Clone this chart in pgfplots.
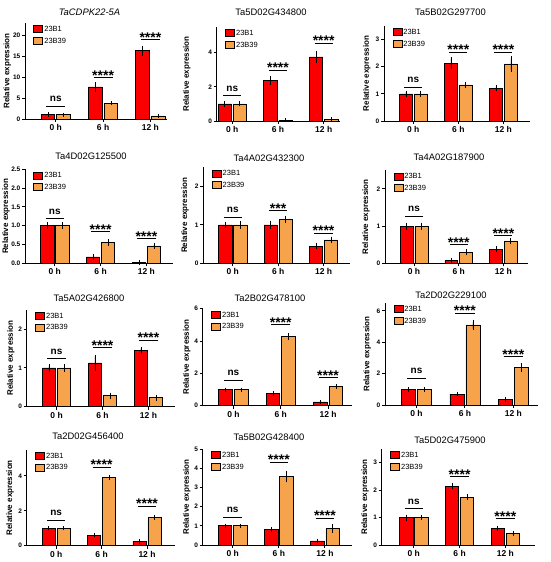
\documentclass[border=0pt]{standalone}
\usepackage{pgfplots}
\pgfplotsset{compat=1.18}
\usepackage{fontspec}
\setmainfont{Liberation Sans}
\definecolor{barred}{RGB}{250,0,0}
\definecolor{barorg}{RGB}{247,163,76}
\pgfplotsset{
  gp/.style={
    scale only axis, ybar, clip=false,
    axis x line*=bottom, axis y line*=left,
    axis line style={line width=0.9pt,-},
    xmin=-0.65, xmax=2.55, ymin=0,
    xtick={0,1,2}, xticklabels={0 h,6 h,12 h},
    minor tick num=0,
    tick align=outside, major tick length=3pt,
    every tick/.style={line width=0.9pt,black},
    x tick label style={font=\bfseries\fontsize{8.5}{9}\selectfont, inner sep=2pt},
    y tick label style={font=\bfseries\fontsize{6.5}{7}\selectfont, inner sep=1.5pt},
    /pgf/number format/assume math mode=true,
    ylabel={Relative expression},
    ylabel style={font=\bfseries\fontsize{8}{9}\selectfont, anchor=center},
    bar width=0.29,
    legend style={draw=none, fill=none, inner sep=0pt, outer sep=0pt,
      at={(axis description cs:0,1)}, anchor=north west, xshift=8.5pt, yshift=-2pt,
      font=\fontsize{7.5}{8}\selectfont,
      nodes={inner sep=1.2pt}, row sep=2.5pt},
    legend cell align=left,
    legend image code/.code={\draw[##1,line width=0.7pt] (0pt,-3pt) rectangle (9pt,4pt);},
  },
  rb/.style={fill=barred, draw=black, line width=0.7pt, bar shift=-0.165,
    error bars/y dir=both, error bars/y explicit,
    error bars/error bar style={line width=0.7pt,black},
    error bars/error mark options={mark size=1.7pt,line width=0.7pt,black}},
  ob/.style={fill=barorg, draw=black, line width=0.7pt, bar shift=0.165,
    error bars/y dir=both, error bars/y explicit,
    error bars/error bar style={line width=0.7pt,black},
    error bars/error mark options={mark size=1.7pt,line width=0.7pt,black}},
}
\tikzset{sigl/.style={line width=1pt,black}}
\newcommand\nstxt{\bfseries\fontsize{10}{11}\selectfont ns}
\newcommand\sttxt[1]{\bfseries\fontsize{14}{15}\selectfont #1}
\newcommand\signs[1]{\draw[sigl] (axis cs:-0.2,#1) -- (axis cs:0.2,#1) node[midway,anchor=base,yshift=4.6pt,inner sep=0pt]{\nstxt};}
\newcommand\sigB[2]{\draw[sigl] (axis cs:0.8,#1) -- (axis cs:1.2,#1) node[midway,anchor=base,yshift=-2.4pt,inner sep=0pt]{\sttxt{#2}};}
\newcommand\sigC[2]{\draw[sigl] (axis cs:1.8,#1) -- (axis cs:2.2,#1) node[midway,anchor=base,yshift=-2.4pt,inner sep=0pt]{\sttxt{#2}};}
\newcommand\ttl[3]{\node[font=\fontsize{9.4}{10}\selectfont] at (#1pt,#2pt) {#3};}
\begin{document}
\begin{tikzpicture}
\path[use as bounding box] (0,0) rectangle (550pt,562pt);
% ---------- Row 1 ----------
\begin{axis}[gp, at={(25pt,443pt)}, width=142pt, height=96pt, xmax=2.35,
  ymax=23, ytick={0,5,10,15,20},
  ylabel style={at={(axis description cs:-0.125,0.5)}}]
\addplot[rb] coordinates {(0,1.1) +- (0,0.15) (1,7.7) +- (0,0.75) (2,16.4) +- (0,0.8)};
\addplot[ob] coordinates {(0,1.0) +- (0,0.1) (1,3.8) +- (0,0.1) (2,0.75) +- (0,0.1)};
\legend{23B1,23B39}
\signs{3.1}\sigB{9.9}{****}\sigC{19.0}{****}
\end{axis}
\begin{axis}[gp, at={(216.7pt,441pt)}, width=123pt, height=94pt, xmin=-0.34, xmax=2.35,
  ymax=5.5, ytick={0,2,4},
  ylabel style={at={(axis description cs:-0.244,0.5)}}]
\addplot[rb] coordinates {(0,1.0) +- (0,0.06) (1,2.38) +- (0,0.15) (2,3.75) +- (0,0.27)};
\addplot[ob] coordinates {(0,1.0) +- (0,0.05) (1,0.05) +- (0,0.02) (2,0.1) +- (0,0.03)};
\legend{23B1,23B39}
\signs{1.48}\sigB{2.97}{****}\sigC{4.55}{****}
\end{axis}
\begin{axis}[gp, at={(384pt,441pt)}, width=146pt, height=95pt, xmax=2.59,
  ymax=3.5, ytick={0,1,2,3},
  ylabel style={at={(axis description cs:-0.118,0.5)}}]
\addplot[rb] coordinates {(0,1.0) +- (0,0.06) (1,2.13) +- (0,0.17) (2,1.2) +- (0,0.05)};
\addplot[ob] coordinates {(0,1.0) +- (0,0.05) (1,1.33) +- (0,0.05) (2,2.1) +- (0,0.22)};
\legend{23B1,23B39}
\signs{1.25}\sigB{2.54}{****}\sigC{2.54}{****}
\end{axis}
% ---------- Row 2 ----------
\begin{axis}[gp, at={(25pt,298.7pt)}, width=148pt, height=94pt, xmax=2.58,
  ymax=2.5, ytick={0,0.5,1,1.5,2,2.5},
  yticklabel style={/pgf/number format/.cd, fixed, fixed zerofill, precision=1},
  ylabel style={at={(axis description cs:-0.128,0.5)}}]
\addplot[rb] coordinates {(0,1.0) +- (0,0.04) (1,0.17) +- (0,0.04) (2,0.02) +- (0,0.01)};
\addplot[ob] coordinates {(0,1.0) +- (0,0.04) (1,0.55) +- (0,0.04) (2,0.46) +- (0,0.03)};
\legend{23B1,23B39}
\signs{1.18}\sigB{0.84}{****}\sigC{0.65}{****}
\end{axis}
\begin{axis}[gp, at={(203.3pt,298.7pt)}, width=147pt, height=96pt, xmax=2.59,
  ymax=2.5, ytick={0,1,2},
  ylabel style={at={(axis description cs:-0.124,0.5)}}]
\addplot[rb] coordinates {(0,1.0) +- (0,0.04) (1,1.0) +- (0,0.07) (2,0.45) +- (0,0.03)};
\addplot[ob] coordinates {(0,1.0) +- (0,0.05) (1,1.14) +- (0,0.05) (2,0.61) +- (0,0.04)};
\legend{23B1,23B39}
\signs{1.19}\sigB{1.37}{***}\sigC{0.78}{****}
\end{axis}
\begin{axis}[gp, at={(385pt,298.7pt)}, width=143pt, height=93pt, xmax=2.55,
  ymax=2.5, ytick={0,1,2},
  ylabel style={at={(axis description cs:-0.133,0.5)}}]
\addplot[rb] coordinates {(0,1.0) +- (0,0.05) (1,0.07) +- (0,0.03) (2,0.38) +- (0,0.04)};
\addplot[ob] coordinates {(0,1.0) +- (0,0.05) (1,0.3) +- (0,0.04) (2,0.6) +- (0,0.04)};
\legend{23B1,23B39}
\signs{1.27}\sigB{0.5}{****}\sigC{0.74}{****}
\end{axis}
% ---------- Row 3 ----------
\begin{axis}[gp, at={(26.7pt,155.3pt)}, width=148pt, height=97pt, xmax=2.57,
  ymax=2.5, ytick={0,1,2},
  ylabel style={at={(axis description cs:-0.108,0.5)}}]
\addplot[rb] coordinates {(0,1.0) +- (0,0.06) (1,1.13) +- (0,0.17) (2,1.45) +- (0,0.05)};
\addplot[ob] coordinates {(0,1.0) +- (0,0.05) (1,0.28) +- (0,0.04) (2,0.23) +- (0,0.04)};
\legend{23B1,23B39}
\signs{1.23}\sigB{1.52}{****}\sigC{1.71}{****}
\end{axis}
\begin{axis}[gp, at={(202.7pt,156.3pt)}, width=149pt, height=97pt, xmax=2.5,
  ymax=6, ytick={0,2,4,6},
  ylabel style={at={(axis description cs:-0.107,0.5)}}]
\addplot[rb] coordinates {(0,1.0) +- (0,0.02) (1,0.74) +- (0,0.04) (2,0.23) +- (0,0.03)};
\addplot[ob] coordinates {(0,1.0) +- (0,0.02) (1,4.28) +- (0,0.14) (2,1.19) +- (0,0.03)};
\legend{23B1,23B39}
\signs{1.56}\sigB{5.0}{****}\sigC{1.72}{****}
\end{axis}
\begin{axis}[gp, at={(385pt,157pt)}, width=153pt, height=102pt, xmax=2.51,
  ymax=6.5, ytick={0,2,4,6},
  ylabel style={at={(axis description cs:-0.116,0.5)}}]
\addplot[rb] coordinates {(0,0.98) +- (0,0.03) (1,0.7) +- (0,0.03) (2,0.36) +- (0,0.03)};
\addplot[ob] coordinates {(0,0.98) +- (0,0.04) (1,5.1) +- (0,0.21) (2,2.37) +- (0,0.17)};
\legend{23B1,23B39}
\signs{1.72}\sigB{5.85}{****}\sigC{3.06}{****}
\end{axis}
% ---------- Row 4 ----------
\begin{axis}[gp, at={(26.7pt,16.3pt)}, width=148pt, height=96pt, xmax=2.61,
  ymax=5.5, ytick={0,2,4},
  ylabel style={at={(axis description cs:-0.113,0.5)}}]
\addplot[rb] coordinates {(0,1.0) +- (0,0.03) (1,0.61) +- (0,0.03) (2,0.23) +- (0,0.03)};
\addplot[ob] coordinates {(0,1.0) +- (0,0.02) (1,3.93) +- (0,0.05) (2,1.61) +- (0,0.04)};
\legend{23B1,23B39}
\signs{1.47}\sigB{4.48}{****}\sigC{2.26}{****}
\end{axis}
\begin{axis}[gp, at={(202.7pt,17pt)}, width=149pt, height=96pt, xmax=2.58,
  ymax=5, ytick={0,1,2,3,4,5},
  ylabel style={at={(axis description cs:-0.107,0.5)}}]
\addplot[rb] coordinates {(0,1.0) +- (0,0.03) (1,0.79) +- (0,0.04) (2,0.21) +- (0,0.03)};
\addplot[ob] coordinates {(0,1.0) +- (0,0.03) (1,3.57) +- (0,0.22) (2,0.87) +- (0,0.14)};
\legend{23B1,23B39}
\signs{1.45}\sigB{4.31}{****}\sigC{1.38}{****}
\end{axis}
\begin{axis}[gp, at={(381.7pt,17pt)}, width=153pt, height=96pt, xmax=2.64, xmin=-0.7,
  ymax=3.5, ytick={0,1,2,3},
  ylabel style={at={(axis description cs:-0.109,0.5)}}]
\addplot[rb] coordinates {(0,1.0) +- (0,0.05) (1,2.14) +- (0,0.05) (2,0.6) +- (0,0.04)};
\addplot[ob] coordinates {(0,1.0) +- (0,0.04) (1,1.74) +- (0,0.04) (2,0.41) +- (0,0.03)};
\legend{23B1,23B39}
\signs{1.32}\sigB{2.48}{****}\sigC{0.96}{****}
\end{axis}
% ---------- Titles ----------
\ttl{89.5}{549.3}{\itshape TaCDPK22-5A}
\ttl{271}{549.3}{Ta5D02G434800}
\ttl{450.5}{549.3}{Ta5B02G297700}
\ttl{91}{406}{Ta4D02G125500}
\ttl{269}{403.7}{Ta4A02G432300}
\ttl{449}{404.7}{Ta4A02G187900}
\ttl{89}{264}{Ta5A02G426800}
\ttl{270}{263.7}{Ta2B02G478100}
\ttl{451}{267}{Ta2D02G229100}
\ttl{88}{125.3}{Ta2D02G456400}
\ttl{269}{124.7}{Ta5B02G428400}
\ttl{450}{122}{Ta5D02G475900}
\end{tikzpicture}
\end{document}
